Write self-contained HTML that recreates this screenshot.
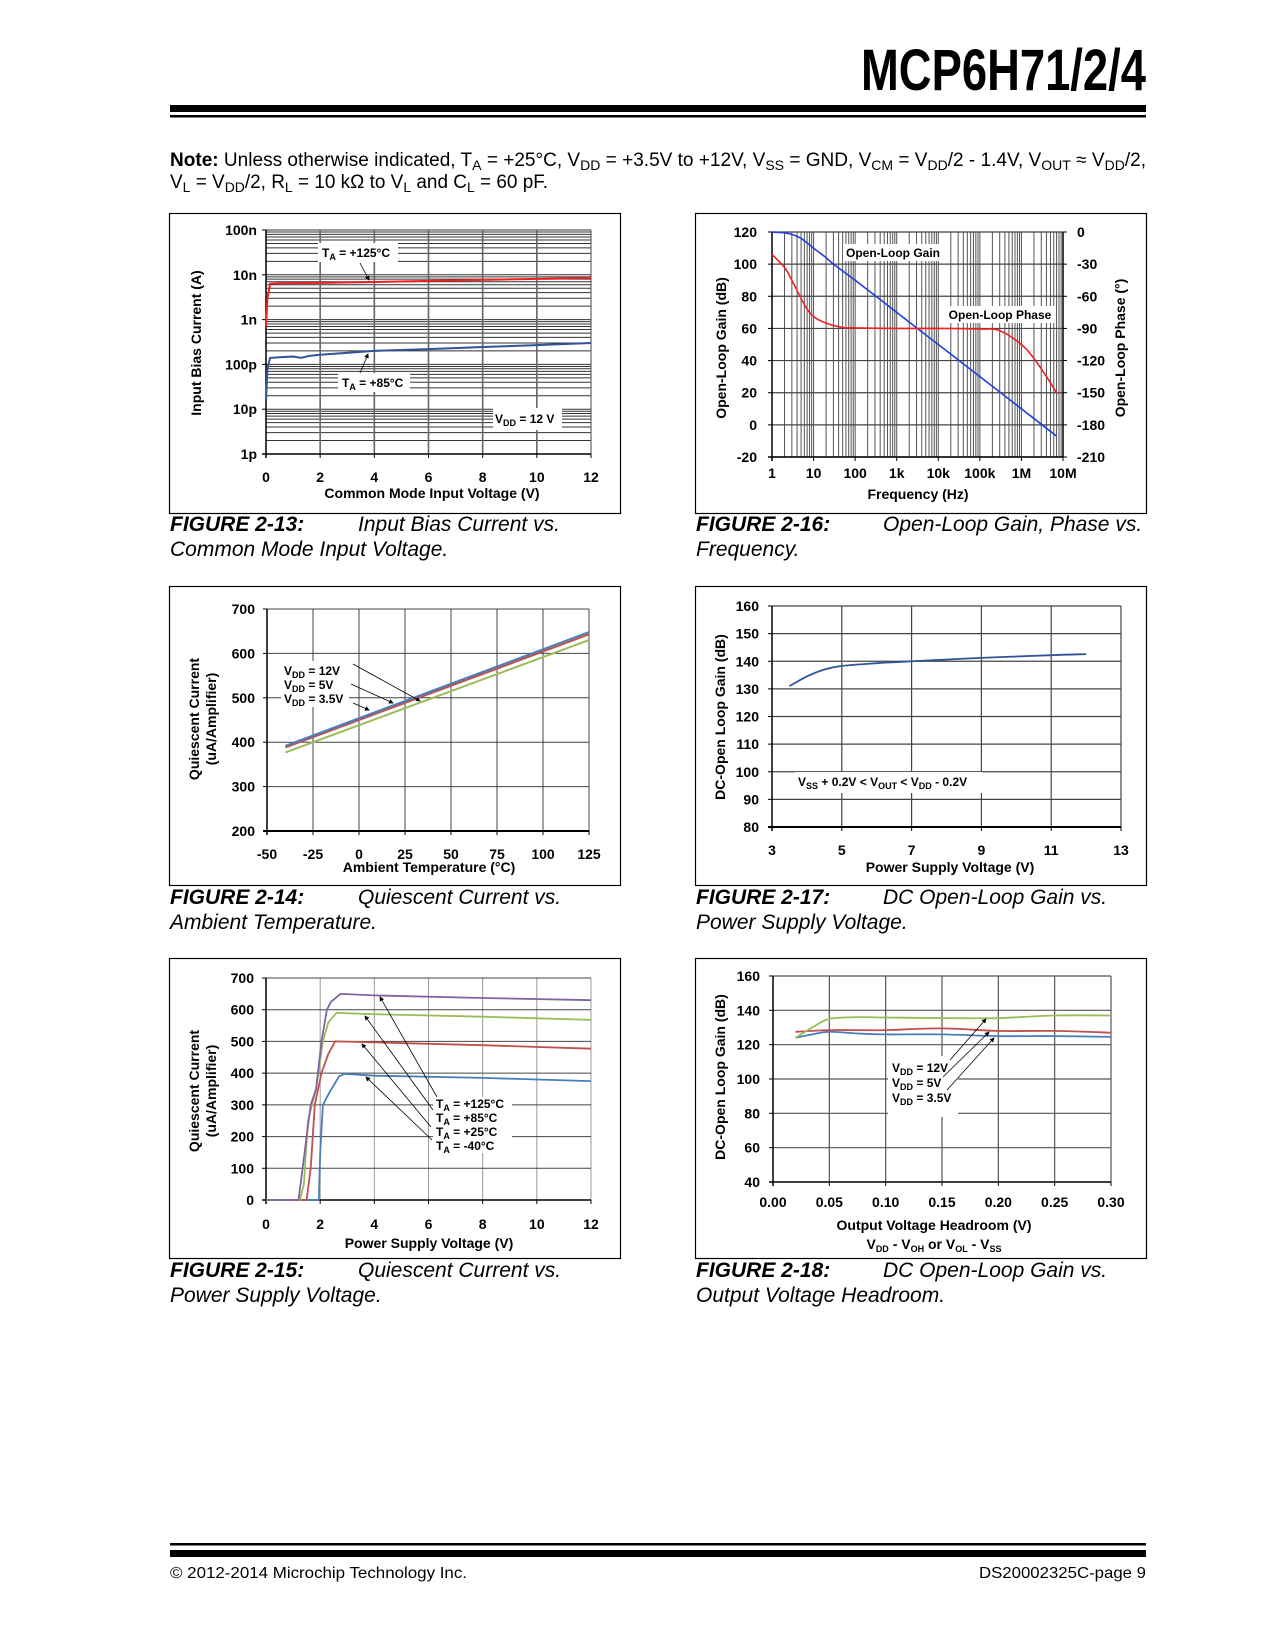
<!DOCTYPE html>
<html><head><meta charset="utf-8"><style>
html,body{margin:0;padding:0;background:#fff;}
svg{display:block;font-family:"Liberation Sans",Arial,sans-serif;}
.tk{font-size:14px;font-weight:bold;fill:#000;}
.at{font-size:14px;font-weight:bold;fill:#000;}
.an{font-size:12px;font-weight:bold;fill:#000;}
.cap{font-size:21px;font-style:italic;fill:#000;}
</style></head><body>
<svg id="page" width="1275" height="1650" viewBox="0 0 1275 1650" xmlns="http://www.w3.org/2000/svg">
<rect x="0" y="0" width="1275" height="1650" fill="#fff"/>
<!-- header -->
<text x="1146" y="90" text-anchor="end" font-size="58" font-weight="bold" textLength="285" lengthAdjust="spacingAndGlyphs">MCP6H71/2/4</text>
<rect x="170" y="105" width="976" height="7" fill="#000"/>
<rect x="170" y="115" width="976" height="2.5" fill="#000"/>
<text x="170" y="166" font-size="19" textLength="976" lengthAdjust="spacingAndGlyphs"><tspan font-weight="bold">Note:</tspan> Unless otherwise indicated, T<tspan dy="4" font-size="14">A</tspan><tspan dy="-4"> = +25°C, V</tspan><tspan dy="4" font-size="14">DD</tspan><tspan dy="-4"> = +3.5V to +12V, V</tspan><tspan dy="4" font-size="14">SS</tspan><tspan dy="-4"> = GND, V</tspan><tspan dy="4" font-size="14">CM</tspan><tspan dy="-4"> = V</tspan><tspan dy="4" font-size="14">DD</tspan><tspan dy="-4">/2 - 1.4V, V</tspan><tspan dy="4" font-size="14">OUT</tspan><tspan dy="-4"> ≈ V</tspan><tspan dy="4" font-size="14">DD</tspan><tspan dy="-4">/2,</tspan></text>
<text x="170" y="188" font-size="19" textLength="378" lengthAdjust="spacingAndGlyphs">V<tspan dy="4" font-size="14">L</tspan><tspan dy="-4"> = V</tspan><tspan dy="4" font-size="14">DD</tspan><tspan dy="-4">/2, R</tspan><tspan dy="4" font-size="14">L</tspan><tspan dy="-4"> = 10 kΩ to V</tspan><tspan dy="4" font-size="14">L</tspan><tspan dy="-4"> and C</tspan><tspan dy="4" font-size="14">L</tspan><tspan dy="-4"> = 60 pF.</tspan></text>

<!-- frames -->
<rect x="169.5" y="213.5" width="451" height="300" fill="none" stroke="#000" stroke-width="1.2"/>
<rect x="695.5" y="213.5" width="451" height="300" fill="none" stroke="#000" stroke-width="1.2"/>
<rect x="169.5" y="586.5" width="451" height="299" fill="none" stroke="#000" stroke-width="1.2"/>
<rect x="695.5" y="586.5" width="451" height="299" fill="none" stroke="#000" stroke-width="1.2"/>
<rect x="169.5" y="958.5" width="451" height="300" fill="none" stroke="#000" stroke-width="1.2"/>
<rect x="695.5" y="958.5" width="451" height="300" fill="none" stroke="#000" stroke-width="1.2"/>

<!-- captions -->
<g>
<text class="cap" x="170" y="531" font-weight="bold">FIGURE 2-13:</text><text class="cap" x="358" y="531">Input Bias Current vs.</text>
<text class="cap" x="170" y="556">Common Mode Input Voltage.</text></g>
<g>
<text class="cap" x="696" y="531" font-weight="bold">FIGURE 2-16:</text><text class="cap" x="883" y="531">Open-Loop Gain, Phase vs.</text>
<text class="cap" x="696" y="556">Frequency.</text></g>
<g>
<text class="cap" x="170" y="904" font-weight="bold">FIGURE 2-14:</text><text class="cap" x="358" y="904">Quiescent Current vs.</text>
<text class="cap" x="170" y="929">Ambient Temperature.</text></g>
<g>
<text class="cap" x="696" y="904" font-weight="bold">FIGURE 2-17:</text><text class="cap" x="883" y="904">DC Open-Loop Gain vs.</text>
<text class="cap" x="696" y="929">Power Supply Voltage.</text></g>
<g>
<text class="cap" x="170" y="1277" font-weight="bold">FIGURE 2-15:</text><text class="cap" x="358" y="1277">Quiescent Current vs.</text>
<text class="cap" x="170" y="1302">Power Supply Voltage.</text></g>
<g>
<text class="cap" x="696" y="1277" font-weight="bold">FIGURE 2-18:</text><text class="cap" x="883" y="1277">DC Open-Loop Gain vs.</text>
<text class="cap" x="696" y="1302">Output Voltage Headroom.</text></g>

<!-- axis titles -->
<text class="at" transform="translate(201,343) rotate(-90)" text-anchor="middle">Input Bias Current (A)</text>
<text class="at" x="432" y="498" text-anchor="middle">Common Mode Input Voltage (V)</text>
<text class="at" transform="translate(726,348) rotate(-90)" text-anchor="middle">Open-Loop Gain (dB)</text>
<text class="at" transform="translate(1125,348) rotate(-90)" text-anchor="middle">Open-Loop Phase (°)</text>
<text class="at" x="918" y="499" text-anchor="middle">Frequency (Hz)</text>
<text class="at" transform="translate(199,719) rotate(-90)" text-anchor="middle">Quiescent Current</text>
<text class="at" transform="translate(216,719) rotate(-90)" text-anchor="middle">(uA/Amplifier)</text>
<text class="at" x="429" y="872" text-anchor="middle">Ambient Temperature (°C)</text>
<text class="at" transform="translate(725,717) rotate(-90)" text-anchor="middle">DC-Open Loop Gain (dB)</text>
<text class="at" x="950" y="872" text-anchor="middle">Power Supply Voltage (V)</text>
<text class="at" transform="translate(199,1091) rotate(-90)" text-anchor="middle">Quiescent Current</text>
<text class="at" transform="translate(216,1091) rotate(-90)" text-anchor="middle">(uA/Amplifier)</text>
<text class="at" x="429" y="1248" text-anchor="middle">Power Supply Voltage (V)</text>
<text class="at" transform="translate(725,1077) rotate(-90)" text-anchor="middle">DC-Open Loop Gain (dB)</text>
<text class="at" x="934" y="1230" text-anchor="middle">Output Voltage Headroom (V)</text>
<text class="at" x="934" y="1249" text-anchor="middle">V<tspan dy="3" font-size="9">DD</tspan><tspan dy="-3"> - V</tspan><tspan dy="3" font-size="9">OH</tspan><tspan dy="-3"> or V</tspan><tspan dy="3" font-size="9">OL</tspan><tspan dy="-3"> - V</tspan><tspan dy="3" font-size="9">SS</tspan></text>

<g id="plots"></g>
<g id="annots">
<!-- fig 13 -->
<g><rect x="318" y="243" width="80" height="19" fill="#fff"/><text class="an" x="322" y="257">T<tspan dy="3" font-size="9">A</tspan><tspan dy="-3"> = +125°C</tspan></text></g>
<line x1="360" y1="263" x2="369" y2="280" stroke="#000" stroke-width="0.8" marker-end="url(#ah)"/>
<g><rect x="338" y="373" width="72" height="19" fill="#fff"/><text class="an" x="342" y="387">T<tspan dy="3" font-size="9">A</tspan><tspan dy="-3"> = +85°C</tspan></text></g>
<line x1="360" y1="373" x2="368" y2="354" stroke="#000" stroke-width="0.8" marker-end="url(#ah)"/>
<g><rect x="493" y="408" width="69" height="22" fill="#fff"/><text class="an" x="495" y="423">V<tspan dy="3" font-size="9">DD</tspan><tspan dy="-3"> = 12 V</tspan></text></g>
<!-- fig 16 -->
<g><rect x="843" y="244" width="100" height="17" fill="#fff"/><text class="an" x="893" y="257" text-anchor="middle">Open-Loop Gain</text></g>
<g><rect x="945" y="306" width="110" height="17" fill="#fff"/><text class="an" x="1000" y="319" text-anchor="middle">Open-Loop Phase</text></g>
<!-- fig 14 -->
<g><rect x="281" y="661" width="68" height="46" fill="#fff"/>
<text class="an" x="284" y="675">V<tspan dy="3" font-size="9">DD</tspan><tspan dy="-3"> = 12V</tspan></text>
<text class="an" x="284" y="689">V<tspan dy="3" font-size="9">DD</tspan><tspan dy="-3"> = 5V</tspan></text>
<text class="an" x="284" y="703">V<tspan dy="3" font-size="9">DD</tspan><tspan dy="-3"> = 3.5V</tspan></text></g>
<line x1="353" y1="664" x2="420" y2="701" stroke="#000" stroke-width="0.8" marker-end="url(#ah)"/>
<line x1="351" y1="684" x2="393" y2="703" stroke="#000" stroke-width="0.8" marker-end="url(#ah)"/>
<line x1="353" y1="703" x2="369" y2="710" stroke="#000" stroke-width="0.8" marker-end="url(#ah)"/>
<!-- fig 17 -->
<g><rect x="795" y="772" width="187" height="21" fill="#fff"/><text class="an" x="798" y="786">V<tspan dy="3" font-size="9">SS</tspan><tspan dy="-3"> + 0.2V &lt; V</tspan><tspan dy="3" font-size="9">OUT</tspan><tspan dy="-3"> &lt; V</tspan><tspan dy="3" font-size="9">DD</tspan><tspan dy="-3"> - 0.2V</tspan></text></g>
<!-- fig 15 -->
<g><rect x="433" y="1097" width="79" height="56" fill="#fff"/>
<text class="an" x="436" y="1108">T<tspan dy="3" font-size="9">A</tspan><tspan dy="-3"> = +125°C</tspan></text>
<text class="an" x="436" y="1122">T<tspan dy="3" font-size="9">A</tspan><tspan dy="-3"> = +85°C</tspan></text>
<text class="an" x="436" y="1136">T<tspan dy="3" font-size="9">A</tspan><tspan dy="-3"> = +25°C</tspan></text>
<text class="an" x="436" y="1150">T<tspan dy="3" font-size="9">A</tspan><tspan dy="-3"> = -40°C</tspan></text></g>
<line x1="437" y1="1097" x2="380" y2="997" stroke="#000" stroke-width="0.8" marker-end="url(#ah)"/>
<line x1="433" y1="1110" x2="365" y2="1016" stroke="#000" stroke-width="0.8" marker-end="url(#ah)"/>
<line x1="431" y1="1127" x2="362" y2="1044" stroke="#000" stroke-width="0.8" marker-end="url(#ah)"/>
<line x1="432" y1="1140" x2="366" y2="1077" stroke="#000" stroke-width="0.8" marker-end="url(#ah)"/>
<!-- fig 18 -->
<g><rect x="888" y="1056" width="70" height="61" fill="#fff"/>
<text class="an" x="892" y="1072">V<tspan dy="3" font-size="9">DD</tspan><tspan dy="-3"> = 12V</tspan></text>
<text class="an" x="892" y="1087">V<tspan dy="3" font-size="9">DD</tspan><tspan dy="-3"> = 5V</tspan></text>
<text class="an" x="892" y="1102">V<tspan dy="3" font-size="9">DD</tspan><tspan dy="-3"> = 3.5V</tspan></text></g>
<line x1="950" y1="1060" x2="986" y2="1019" stroke="#000" stroke-width="0.8" marker-end="url(#ah)"/>
<line x1="943" y1="1077" x2="989" y2="1032" stroke="#000" stroke-width="0.8" marker-end="url(#ah)"/>
<line x1="947" y1="1090" x2="994" y2="1038" stroke="#000" stroke-width="0.8" marker-end="url(#ah)"/>
</g>
<defs><marker id="ah" markerWidth="6" markerHeight="6" refX="5" refY="3" orient="auto"><path d="M0,0 L6,3 L0,6 z" fill="#000"/></marker></defs>

<!-- footer -->
<rect x="170" y="1543" width="976" height="2.5" fill="#000"/>
<rect x="170" y="1550" width="976" height="7" fill="#000"/>
<text x="170" y="1578" font-size="16" textLength="297" lengthAdjust="spacingAndGlyphs">© 2012-2014 Microchip Technology Inc.</text>
<text x="1146" y="1578" font-size="16" text-anchor="end" textLength="167" lengthAdjust="spacingAndGlyphs">DS20002325C-page 9</text>
</svg>
<script>
// ---- Figure 2-13 data (Input bias current vs VCM) ----
const f13RedX = [0,0.05,0.15,0.5,2,4,6,8,10,12];
const f13RedY = [0.7e-9,3e-9,6.3e-9,6.5e-9,6.6e-9,6.9e-9,7.3e-9,7.7e-9,8.1e-9,8.5e-9];
const f13BlueX = [0,0.05,0.15,0.5,1,1.3,1.6,2,4,6,8,10,12];
const f13BlueY = [15e-12,80e-12,140e-12,145e-12,150e-12,140e-12,155e-12,165e-12,200e-12,220e-12,245e-12,270e-12,300e-12];
const f13XTicks = [0,2,4,6,8,10,12];
const f13YTicks = [1e-7,1e-8,1e-9,1e-10,1e-11,1e-12];
const f13YLabels = ['100n','10n','1n','100p','10p','1p'];
// ---- Figure 2-16 data (Open loop gain/phase) ----
const f16GainF = [1,2,3,5,10,20,30,100,1e3,1e4,1e5,1e6,7e6];
const f16Gain = [120,119.5,118.5,116,110,104,100,90,70,50,30,10,-7];
const f16PhaseF = [1,2,3,5,7,10,20,50,100,1e3,1e4,1e5,3e5,1e6,2e6,4e6,7e6];
const f16Phase = [-21,-33,-45,-62,-72,-79,-85,-89,-89.5,-90,-90,-90.5,-92,-105,-118,-135,-150];
const f16XLabels = ['1','10','100','1k','10k','100k','1M','10M'];
const f16YTicks = [120,100,80,60,40,20,0,-20];
const f16Y2Ticks = [0,-30,-60,-90,-120,-150,-180,-210];
// ---- Figure 2-14 data ----
const f14Temp = [-40,125];
const f14V12 = [392,648];
const f14V5 = [388,643];
const f14V35 = [377,630];
const f14XTicks = [-50,-25,0,25,50,75,100,125];
const f14YTicks = [200,300,400,500,600,700];
// ---- Figure 2-17 data ----
const f17Vdd = [3.5,4,4.5,5,6,7,9,11,12];
const f17Gain = [131,134.5,137,138.3,139.3,140,141.2,142.2,142.6];
const f17XTicks = [3,5,7,9,11,13];
const f17YTicks = [80,90,100,110,120,130,140,150,160];
// ---- Figure 2-15 data ----
const f15PurpleX = [0,1.2,1.35,1.5,1.65,1.85,2.05,2.25,2.4,2.75,4,8,12];
const f15PurpleY = [0,0,100,200,300,350,500,600,625,650,645,637,630];
const f15GreenX = [0,1.25,1.4,1.55,1.85,2.1,2.3,2.6,4,8,12];
const f15GreenY = [0,0,50,250,350,500,560,590,586,578,568];
const f15RedX = [0,1.5,1.65,1.8,2.05,2.3,2.55,4,8,12];
const f15RedY = [0,0,100,300,400,460,500,497,488,477];
const f15BlueX = [0,1.95,2.0,2.1,2.35,2.7,2.9,4,8,12];
const f15BlueY = [0,0,150,300,340,390,398,392,385,375];
const f15XTicks = [0,2,4,6,8,10,12];
const f15YTicks = [0,100,200,300,400,500,600,700];
// ---- Figure 2-18 data ----
const f18X = [0.02,0.035,0.05,0.075,0.1,0.15,0.2,0.25,0.3];
const f18V12 = [124,130,135,136,135.8,135.5,135.5,137,137];
const f18V5 = [127.5,128,128.5,128.5,128.5,129.5,128,128,127];
const f18V35 = [124,126,127.5,126.5,126,126,125,125,124.5];
const f18XTicks = [0,0.05,0.1,0.15,0.2,0.25,0.3];
const f18YTicks = [40,60,80,100,120,140,160];

const NS = 'http://www.w3.org/2000/svg';
const plots = document.getElementById('plots');
function mk(tag, attrs, parent) {
  const e = document.createElementNS(NS, tag);
  for (const k in attrs) e.setAttribute(k, attrs[k]);
  (parent || plots).appendChild(e);
  return e;
}
function lin(d0, d1, r0, r1) { return v => r0 + (v - d0) * (r1 - r0) / (d1 - d0); }
function logs(d0, d1, r0, r1) { const a = Math.log10(d0), b = Math.log10(d1); return v => r0 + (Math.log10(v) - a) * (r1 - r0) / (b - a); }
function pathFrom(xs, ys, sx, sy, smooth) {
  const p = xs.map((x, i) => [sx(x), sy(ys[i])]);
  let d = 'M' + p[0][0].toFixed(1) + ',' + p[0][1].toFixed(1);
  for (let i = 1; i < p.length; i++) {
    if (!smooth) { d += 'L' + p[i][0].toFixed(1) + ',' + p[i][1].toFixed(1); continue; }
    const p0 = p[i - 2] || p[i - 1], p1 = p[i - 1], p2 = p[i], p3 = p[i + 1] || p2;
    const c1 = [p1[0] + (p2[0] - p0[0]) / 6, p1[1] + (p2[1] - p0[1]) / 6];
    const c2 = [p2[0] - (p3[0] - p1[0]) / 6, p2[1] - (p3[1] - p1[1]) / 6];
    d += 'C' + c1.map(v => v.toFixed(1)) + ' ' + c2.map(v => v.toFixed(1)) + ' ' + p2.map(v => v.toFixed(1));
  }
  return d;
}
function txt(x, y, s, anchor, parent) {
  const t = mk('text', { x: x, y: y, class: 'tk', 'text-anchor': anchor }, parent);
  t.textContent = s;
  return t;
}
function hline(g, x0, x1, y, c, w) { mk('line', { x1: x0, x2: x1, y1: y, y2: y, stroke: c, 'stroke-width': w }, g); }
function vline(g, x, y0, y1, c, w) { mk('line', { x1: x, x2: x, y1: y0, y2: y1, stroke: c, 'stroke-width': w }, g); }

// ===== Figure 2-13 =====
{
  const sx = lin(0, 12, 266, 591), sy = logs(1e-7, 1e-12, 230, 454);
  const g = mk('g', {});
  
  
  for (let e = -12; e < -7; e++) for (let k = 1; k < 10; k++) hline(g, 266, 591, sy(k * Math.pow(10, e)), '#333', 1);
  hline(g, 266, 591, sy(1e-7), '#333', 1);
  f13XTicks.slice(1, -1).forEach(v => vline(g, sx(v), 230, 454, '#666', 1.6));
  vline(g, 591, 230, 454, '#444', 1);
  const ax = mk('g', {});
  
  
  vline(ax, 266, 230, 458, '#000', 1.5); hline(ax, 262, 591, 454, '#000', 1.5);
  f13XTicks.forEach(v => { vline(ax, sx(v), 454, 458, '#000', 1); txt(sx(v), 482, String(v), 'middle', ax); });
  f13YTicks.forEach((v, i) => { hline(ax, 262, 266, sy(v), '#000', 1); txt(257, sy(v) + 5, f13YLabels[i], 'end', ax); });
  const r = mk('path', { d: pathFrom(f13RedX, f13RedY, sx, sy, false), fill: 'none', stroke: '#ee2020', 'stroke-width': 2 });
  
  
  const b = mk('path', { d: pathFrom(f13BlueX, f13BlueY, sx, sy, false), fill: 'none', stroke: '#2f5597', 'stroke-width': 2 });
  
  
}
// ===== Figure 2-16 =====
{
  const sx = logs(1, 1e7, 772, 1063), sy = lin(120, -20, 232, 457), sp = lin(0, -210, 232, 457);
  const g = mk('g', {});
  
  
  for (let e = 0; e < 7; e++) for (let k = 1; k < 10; k++) vline(g, sx(k * Math.pow(10, e)), 232, 457, '#555', 1);
  f16YTicks.forEach(v => hline(g, 772, 1063, sy(v), '#444', 1.2));
  const ax = mk('g', {});
  
  
  vline(ax, 772, 232, 461, '#000', 1.5); hline(ax, 768, 1063, 457, '#000', 1.5); vline(ax, 1063, 232, 457, '#000', 1.5);
  f16XLabels.forEach((s, i) => { const x = sx(Math.pow(10, i)); vline(ax, x, 457, 461, '#000', 1); txt(x, 478, s, 'middle', ax); });
  f16YTicks.forEach(v => { hline(ax, 768, 772, sy(v), '#000', 1); txt(757, sy(v) + 5, String(v), 'end', ax); });
  f16Y2Ticks.forEach(v => { hline(ax, 1063, 1067, sp(v), '#000', 1); txt(1077, sp(v) + 5, String(v), 'start', ax); });
  const gn = mk('path', { d: pathFrom(f16GainF, f16Gain, sx, sy, true), fill: 'none', stroke: '#1f3ee0', 'stroke-width': 1.6 });
  
  
  const ph = mk('path', { d: pathFrom(f16PhaseF, f16Phase, sx, sp, true), fill: 'none', stroke: '#ee2020', 'stroke-width': 1.6 });
  
  
}
// ===== Figure 2-14 =====
{
  const sx = lin(-50, 125, 267, 589), sy = lin(200, 700, 831, 609);
  const g = mk('g', {});
  
  
  f14XTicks.slice(1).forEach(v => vline(g, sx(v), 609, 831, '#444', 1));
  f14YTicks.slice(1).forEach(v => hline(g, 267, 589, sy(v), '#444', 1));
  const ax = mk('g', {});
  
  
  vline(ax, 267, 609, 835, '#000', 1.5); hline(ax, 263, 589, 831, '#000', 2);
  f14XTicks.forEach(v => { vline(ax, sx(v), 831, 835, '#000', 1); txt(sx(v), 859, String(v), 'middle', ax); });
  f14YTicks.forEach(v => { hline(ax, 263, 267, sy(v), '#000', 1); txt(255, sy(v) + 5, String(v), 'end', ax); });
  [[f14V35, '#9bbb59', 'fig14-series-3v5'], [f14V5, '#c0504d', 'fig14-series-5v'], [f14V12, '#4a7ebb', 'fig14-series-12v']].forEach(s => {
    const p = mk('path', { d: pathFrom(f14Temp, s[0], sx, sy, false), fill: 'none', stroke: s[1], 'stroke-width': 2 });
    
    
  });
}
// ===== Figure 2-17 =====
{
  const sx = lin(3, 13, 772, 1121), sy = lin(80, 160, 827, 606);
  const g = mk('g', {});
  
  
  f17XTicks.slice(1).forEach(v => vline(g, sx(v), 606, 827, '#444', 1.2));
  f17YTicks.slice(1).forEach(v => hline(g, 772, 1121, sy(v), '#444', 1.2));
  const ax = mk('g', {});
  
  
  vline(ax, 772, 606, 831, '#000', 1.5); hline(ax, 768, 1121, 827, '#000', 2);
  f17XTicks.forEach(v => { vline(ax, sx(v), 827, 831, '#000', 1); txt(sx(v), 855, String(v), 'middle', ax); });
  f17YTicks.forEach(v => { hline(ax, 768, 772, sy(v), '#000', 1); txt(759, sy(v) + 5, String(v), 'end', ax); });
  const p = mk('path', { d: pathFrom(f17Vdd, f17Gain, sx, sy, true), fill: 'none', stroke: '#2f5597', 'stroke-width': 1.8 });
  
  
}
// ===== Figure 2-15 =====
{
  const sx = lin(0, 12, 266, 591), sy = lin(0, 700, 1200, 978);
  const g = mk('g', {});
  
  
  f15XTicks.slice(1).forEach(v => vline(g, sx(v), 978, 1200, '#999', 1));
  f15YTicks.slice(1).forEach(v => hline(g, 266, 591, sy(v), '#444', 1));
  const ax = mk('g', {});
  
  
  vline(ax, 266, 978, 1204, '#000', 1.5); hline(ax, 262, 591, 1200, '#000', 1.5);
  f15XTicks.forEach(v => { vline(ax, sx(v), 1200, 1204, '#000', 1); txt(sx(v), 1229, String(v), 'middle', ax); });
  f15YTicks.forEach(v => { hline(ax, 262, 266, sy(v), '#000', 1); txt(254, sy(v) + 5, String(v), 'end', ax); });
  [[f15BlueX, f15BlueY, '#4a7ebb', 'fig15-series-m40c'], [f15RedX, f15RedY, '#c0504d', 'fig15-series-25c'],
   [f15GreenX, f15GreenY, '#9bbb59', 'fig15-series-85c'], [f15PurpleX, f15PurpleY, '#8064a2', 'fig15-series-125c']].forEach(s => {
    const p = mk('path', { d: pathFrom(s[0], s[1], sx, sy, false), fill: 'none', stroke: s[2], 'stroke-width': 1.8, 'stroke-linejoin': 'round' });
    
    
  });
}
// ===== Figure 2-18 =====
{
  const sx = lin(0, 0.3, 773, 1111), sy = lin(40, 160, 1182, 976);
  const g = mk('g', {});
  
  
  f18XTicks.slice(1).forEach(v => vline(g, sx(v), 976, 1182, '#555', 1.2));
  f18YTicks.slice(1).forEach(v => hline(g, 773, 1111, sy(v), '#555', 1.2));
  const ax = mk('g', {});
  
  
  vline(ax, 773, 976, 1186, '#000', 1.5); hline(ax, 769, 1111, 1182, '#000', 1.5);
  f18XTicks.forEach(v => { vline(ax, sx(v), 1182, 1186, '#000', 1); txt(sx(v), 1207, v.toFixed(2), 'middle', ax); });
  f18YTicks.forEach(v => { hline(ax, 769, 773, sy(v), '#000', 1); txt(760, sy(v) + 5, String(v), 'end', ax); });
  [[f18V35, '#4a7ebb', 'fig18-series-3v5'], [f18V5, '#c0504d', 'fig18-series-5v'], [f18V12, '#9bbb59', 'fig18-series-12v']].forEach(s => {
    const p = mk('path', { d: pathFrom(f18X, s[0], sx, sy, true), fill: 'none', stroke: s[1], 'stroke-width': 1.8 });
    
    
  });
}
</script>
</body></html>
